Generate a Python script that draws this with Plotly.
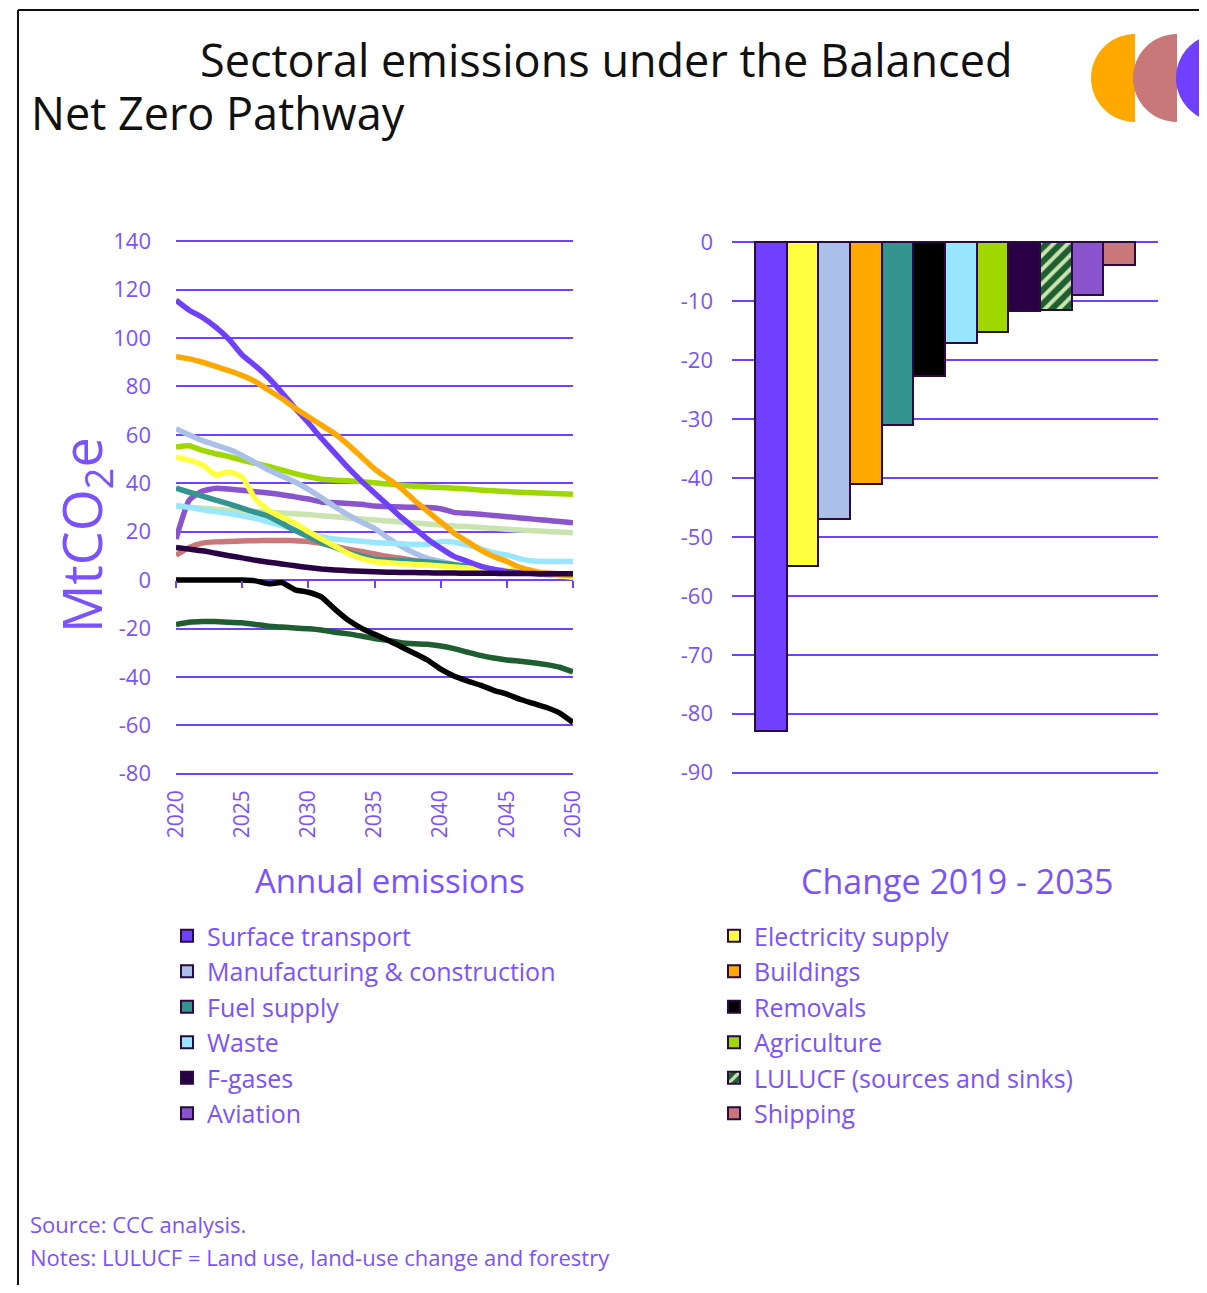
import plotly.graph_objects as go

# page body has an 8px margin: the figure is shrunk so the page does not overflow
OFF = 8
W, H = 1207 - OFF, 1293 - 2 * OFF
FONT = "Open Sans"
TXT = "#7b52ff"
GRID = "#7042ff"

years = list(range(2020, 2051))

# ---- Annual emissions (MtCO2e) ----
surface_transport = [115.6, 111.5, 108.5, 104.5, 99.5, 93.0, 88.5, 83.5, 77.5, 71.0, 65.0,
                     58.5, 52.5, 46.5, 41.0, 36.0, 31.0, 26.0, 21.5, 17.0, 13.2,
                     9.8, 7.8, 5.8, 4.5, 3.6, 3.0, 2.7, 2.5, 2.3, 2.2]
buildings = [92.3, 91.4, 90.0, 88.3, 86.5, 84.5, 82.0, 78.5, 75.0, 71.0, 67.5,
             64.0, 60.5, 56.0, 51.0, 46.0, 42.0, 38.0, 33.0, 28.5, 24.0,
             19.5, 16.0, 12.5, 9.8, 7.7, 5.3, 3.8, 2.8, 2.4, 2.2]
manufacturing = [62.5, 60.0, 57.6, 55.8, 54.0, 51.5, 48.5, 45.5, 43.0, 40.5, 37.5,
                 34.0, 30.3, 27.0, 24.0, 21.4, 17.5, 14.0, 11.2, 9.0, 7.7,
                 6.5, 5.4, 4.5, 3.8, 3.3, 3.0, 2.8, 2.6, 2.5, 2.4]
agriculture = [55.0, 55.5, 53.6, 52.2, 51.0, 49.5, 48.2, 47.0, 45.5, 44.0, 42.7,
               41.7, 41.3, 41.0, 40.6, 40.2, 39.7, 39.2, 38.8, 38.5, 38.3,
               38.0, 37.6, 37.2, 36.9, 36.6, 36.3, 36.1, 35.9, 35.7, 35.5]
electricity = [50.8, 49.5, 47.6, 43.5, 44.7, 42.5, 33.5, 28.8, 26.0, 23.5, 20.0,
               17.0, 14.0, 11.0, 9.0, 7.7, 7.2, 6.8, 6.5, 6.2, 5.8,
               5.4, 5.0, 4.7, 4.3, 4.0, 3.6, 3.1, 2.5, 1.8, 1.2]
aviation = [17.0, 33.0, 36.8, 37.9, 37.6, 37.1, 36.5, 36.0, 35.3, 34.4, 33.5,
            32.3, 32.0, 31.7, 31.3, 30.6, 30.4, 30.2, 30.1, 30.0, 29.5,
            28.0, 27.6, 27.2, 26.7, 26.2, 25.7, 25.2, 24.7, 24.2, 23.7]
lulucf_sources = [30.5, 30.1, 29.7, 29.3, 28.9, 28.6, 28.3, 28.0, 27.7, 27.4, 27.1,
                  26.6, 26.2, 25.7, 25.3, 24.8, 24.4, 24.0, 23.6, 23.2, 22.8,
                  22.4, 22.1, 21.7, 21.4, 21.0, 20.7, 20.4, 20.1, 19.9, 19.6]
waste = [30.8, 30.0, 29.1, 28.3, 27.5, 26.6, 25.5, 24.0, 22.5, 20.8, 19.3,
         17.8, 17.0, 16.5, 16.1, 15.5, 15.2, 15.0, 14.7, 14.8, 15.9,
         15.7, 14.5, 13.0, 11.3, 10.4, 8.8, 7.9, 7.7, 7.7, 7.7]
fuel_supply = [38.0, 36.3, 34.7, 33.0, 31.5, 29.7, 28.0, 26.3, 23.5, 20.5, 18.0,
               15.5, 13.5, 11.5, 10.0, 8.6, 8.3, 8.0, 7.8, 7.5, 7.0,
               6.4, 5.7, 5.0, 4.3, 3.8, 3.3, 2.8, 2.3, 1.9, 1.5]
shipping = [10.3, 13.5, 15.3, 15.8, 16.0, 16.2, 16.3, 16.4, 16.4, 16.3, 16.0,
            15.2, 14.0, 12.8, 11.8, 10.8, 9.8, 9.0, 8.1, 7.3, 6.6,
            6.0, 5.4, 4.9, 4.3, 3.8, 3.3, 3.0, 2.8, 2.6, 2.5]
f_gases = [13.5, 12.8, 12.1, 11.1, 10.1, 9.2, 8.2, 7.4, 6.7, 5.9, 5.2,
           4.6, 4.2, 3.9, 3.7, 3.5, 3.3, 3.2, 3.1, 3.0, 2.9,
           2.9, 2.8, 2.8, 2.8, 2.7, 2.7, 2.7, 2.6, 2.6, 2.6]
lulucf_sinks = [-18.3, -17.4, -17.1, -17.1, -17.4, -17.6, -18.3, -19.0, -19.4, -19.8, -20.1,
                -20.6, -21.5, -22.2, -23.1, -24.1, -24.9, -25.9, -26.3, -26.5, -27.2,
                -28.3, -29.7, -31.1, -32.2, -33.0, -33.5, -34.1, -34.9, -36.0, -37.9]
removals = [0.0, 0.0, 0.0, 0.0, 0.0, 0.0, -0.3, -1.5, -1.0, -4.0, -5.0,
            -7.0, -12.0, -16.5, -19.8, -22.4, -24.8, -27.5, -30.2, -33.0, -36.8,
            -39.6, -41.6, -43.4, -45.5, -47.1, -49.2, -50.9, -52.6, -54.9, -58.8]

# ---- Change 2019 - 2035 ----
bar_sectors = ["Surface transport", "Electricity supply", "Manufacturing & construction",
               "Buildings", "Fuel supply", "Removals", "Waste", "Agriculture",
               "F-gases", "LULUCF (sources and sinks)", "Aviation", "Shipping"]
bar_change = [-83, -55, -47, -41, -31, -22.7, -17, -15.2, -11.7, -11.4, -8.9, -3.8]
bar_colors = ["#7040ff", "#ffff40", "#aac0e8", "#ffa800", "#339490", "#000000",
              "#99e6ff", "#9fd800", "#2a0044", "#1e5e30", "#8a55cc", "#c87878"]

# ---- tick labels ----
left_xticks = [2020, 2025, 2030, 2035, 2040, 2045, 2050]
left_yticks = [140, 120, 100, 80, 60, 40, 20, 0, -20, -40, -60, -80]
left_ylabels = ["140", "120", "100", "80", "60", "40", "20", "0", "-20", "-40", "-60", "-80"]
right_yticks = [0, -10, -20, -30, -40, -50, -60, -70, -80, -90]
right_ylabels = ["0", "-10", "-20", "-30", "-40", "-50", "-60", "-70", "-80", "-90"]


def px(x):
    return (x - OFF) / W


def py(y):
    return 1 - (y - OFF) / H


fig = go.Figure()

lines = [
    (lulucf_sources, "#c9e4ae"),
    (agriculture, "#9fd800"),
    (aviation, "#8a55cc"),
    (manufacturing, "#aac0e8"),
    (waste, "#99e6ff"),
    (shipping, "#c87878"),
    (fuel_supply, "#339490"),
    (electricity, "#ffff40"),
    (surface_transport, "#7040ff"),
    (buildings, "#ffa800"),
    (f_gases, "#2a0044"),
    (lulucf_sinks, "#1e5e30"),
    (removals, "#000000"),
]
for vals, col in lines:
    fig.add_trace(go.Scatter(x=years, y=vals, mode="lines",
                             line=dict(color=col, width=5.5, shape="spline", smoothing=0.5),
                             showlegend=False, xaxis="x", yaxis="y", hoverinfo="skip"))

# tick-mark helper axis (ticks on the zero line)
fig.add_trace(go.Scatter(x=[2020, 2050], y=[None, None], xaxis="x3", yaxis="y",
                         showlegend=False, hoverinfo="skip"))

for i, (name, val, col) in enumerate(zip(bar_sectors, bar_change, bar_colors)):
    marker = dict(color=col, line=dict(color="#2a0a40", width=2))
    if name.startswith("LULUCF"):
        marker["pattern"] = dict(shape="/", fgcolor="#c9e4ae", bgcolor="#1e5e30",
                                 size=10, solidity=0.4, fillmode="replace")
    fig.add_trace(go.Bar(x=[name], y=[val], name=name, legendgroup=name,
                         marker=marker, width=1, xaxis="x2", yaxis="y2",
                         legend="legend" if i % 2 == 0 else "legend2"))

ydom = [py(775), py(240)]
LRANGE = [-80.5, 140.5]
RRANGE = [-90.4, 0.4]
zero_pos = ydom[0] + (0 - LRANGE[0]) / (LRANGE[1] - LRANGE[0]) * (ydom[1] - ydom[0])

axis_font = dict(family=FONT, size=22, color=TXT)
legend_font = dict(family=FONT, size=25, color=TXT)

fig.update_layout(
    width=W, height=H,
    margin=dict(l=0, r=0, t=0, b=0, pad=0, autoexpand=False),
    paper_bgcolor="white", plot_bgcolor="white",
    font=dict(family=FONT, color=TXT),
    barmode="overlay", bargap=0,
    xaxis=dict(domain=[px(176), px(573)], range=[2020, 2050], anchor="y",
               tickvals=left_xticks, tickangle=-90, showgrid=False, zeroline=False,
               showline=False, ticks="", tickfont=dict(family=FONT, size=21, color=TXT),
               ticklabelstandoff=10, automargin=False),
    xaxis3=dict(overlaying="x", range=[2020, 2050], anchor="free", position=zero_pos,
                tickvals=left_xticks, ticks="outside", ticklen=7, tickwidth=2,
                tickcolor=GRID, showticklabels=False, showgrid=False,
                zeroline=False, showline=False, automargin=False),
    yaxis=dict(domain=ydom, range=LRANGE, anchor="x",
               tickvals=left_yticks, ticktext=left_ylabels,
               showgrid=True, gridcolor=GRID, gridwidth=2, zeroline=False,
               showline=False, ticks="", tickfont=axis_font, ticklabelstandoff=24,
               automargin=False),
    xaxis2=dict(domain=[px(732), px(1158)], anchor="y2", range=[-1.226, 12.226],
                showticklabels=False, showgrid=False, zeroline=False, showline=False,
                ticks="", automargin=False),
    yaxis2=dict(domain=ydom, range=RRANGE, anchor="x2",
                tickvals=right_yticks, ticktext=right_ylabels,
                showgrid=True, gridcolor=GRID, gridwidth=2, zeroline=False,
                showline=False, ticks="", tickfont=axis_font, ticklabelstandoff=18,
                automargin=False),
    legend=dict(x=px(167), y=py(913), xanchor="left", yanchor="top",
                font=legend_font, bgcolor="rgba(0,0,0,0)", tracegroupgap=3,
                itemwidth=30, traceorder="normal"),
    legend2=dict(x=px(714), y=py(913), xanchor="left", yanchor="top",
                 font=legend_font, bgcolor="rgba(0,0,0,0)", tracegroupgap=3,
                 itemwidth=30, traceorder="normal"),
)

annotations = [
    dict(text="Sectoral emissions under the Balanced", x=px(606), y=py(60),
         xanchor="center", yanchor="middle", font=dict(family=FONT, size=45, color="#111111")),
    dict(text="Net Zero Pathway", x=px(29), y=py(112), xanchor="left", yanchor="middle",
         font=dict(family=FONT, size=45, color="#111111")),
    dict(text="MtCO<sub>2</sub>e", x=px(84), y=py(535), textangle=-90,
         xanchor="center", yanchor="middle", font=dict(family=FONT, size=54, color=TXT)),
    dict(text="Annual emissions", x=px(390), y=py(880), xanchor="center", yanchor="middle",
         font=dict(family=FONT, size=33, color=TXT)),
    dict(text="Change 2019 - 2035", x=px(957), y=py(881), xanchor="center", yanchor="middle",
         font=dict(family=FONT, size=34, color=TXT)),
    dict(text="Source: CCC analysis.", x=px(28), y=py(1224), xanchor="left", yanchor="middle",
         font=dict(family=FONT, size=22, color=TXT)),
    dict(text="Notes: LULUCF = Land use, land-use change and forestry", x=px(28), y=py(1257),
         xanchor="left", yanchor="middle", font=dict(family=FONT, size=22, color=TXT)),
]
for a in annotations:
    a.update(xref="paper", yref="paper", showarrow=False)
fig.update_layout(annotations=annotations)


def half_disc(cx, cy, r):
    k = 0.5523
    pts = [
        ("M", [(cx, cy - r)]),
        ("C", [(cx - k * r, cy - r), (cx - r, cy - k * r), (cx - r, cy)]),
        ("C", [(cx - r, cy + k * r), (cx - k * r, cy + r), (cx, cy + r)]),
    ]
    s = ""
    for cmd, ps in pts:
        s += cmd + " " + " ".join(f"{px(x):.5f},{py(y):.5f}" for x, y in ps) + " "
    return s + "Z"


shapes = [
    dict(type="line", x0=px(18), x1=px(18), y0=py(10), y1=0,
         line=dict(color="#111111", width=2)),
    dict(type="line", x0=px(18), x1=1, y0=py(10), y1=py(10),
         line=dict(color="#111111", width=2)),
    dict(type="path", path=half_disc(1135, 78, 44), fillcolor="#ffa800", line=dict(width=0)),
    dict(type="path", path=half_disc(1177, 78, 44), fillcolor="#c87878", line=dict(width=0)),
    dict(type="path", path=half_disc(1220, 78, 44), fillcolor="#7040ff", line=dict(width=0)),
]
for s in shapes:
    s.update(xref="paper", yref="paper", layer="above")
fig.update_layout(shapes=shapes)

fig.write_html("out.html")
